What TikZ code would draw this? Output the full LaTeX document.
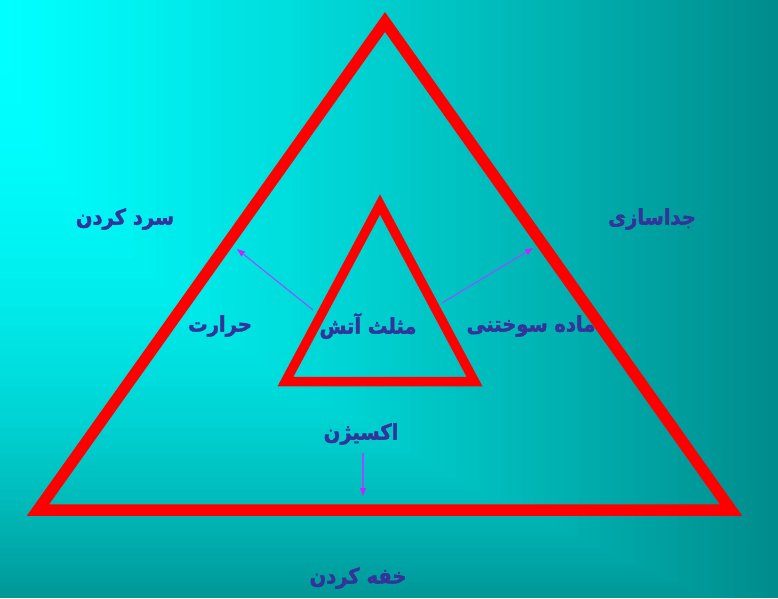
\documentclass[tikz,border=0pt]{standalone}
\usepackage{fontspec}
\usepackage{graphicx}
\TeXXeTstate=1
\newfontfamily\fa[Script=Arabic, FakeBold=2]{DejaVu Sans Bold}
\usetikzlibrary{arrows.meta}
\definecolor{bgA}{RGB}{0,255,255}
\definecolor{bgB}{RGB}{0,139,139}
\definecolor{fire}{RGB}{255,0,0}
\definecolor{txt}{RGB}{51,51,153}
\definecolor{arr}{RGB}{150,80,255}
\definecolor{arrhead}{RGB}{190,40,255}
\tikzset{
  lbl/.style={font=\fa\fontsize{19.5}{22}\selectfont, text=txt, inner sep=0pt},
  tri/.style={draw=fire, line join=miter},
  arrowline/.style={draw=arr, line width=1.1pt, -{Triangle[length=8pt,width=6pt,color=arrhead]}}
}
\newcommand\fatext[1]{\scalebox{1}[1.1]{\beginR #1\endR}}
\begin{document}
\begin{tikzpicture}[x=1pt,y=-1pt]
\useasboundingbox (0,0) rectangle (778,598);
% background: gradient from the top left corner
\foreach \i in {70,69,...,1}{
  \pgfmathsetmacro\tt{\i/70}
  \pgfmathsetmacro\tm{(\i-0.5)/70}
  \pgfmathsetmacro\pp{100*(1-pow(\tm,1.2))}
  \pgfmathsetmacro\hh{598*min(1,sqrt(\tt/0.92))}
  \fill[bgA!\pp!bgB] (0,0) rectangle (778*\tt,\hh);
}
% labels
\node[lbl] (sard) at (125,219) {\fatext{سرد کردن}};
\node[lbl] (joda) at (652,219) {\fatext{جداسازی}};
\node[lbl] (harar) at (220,326) {\fatext{حرارت}};
\node[lbl] (mosal) at (368,326) {\fatext{مثلث آتش}};
\node[lbl] (madde) at (531,326) {\fatext{ماده سوختنی}};
\node[lbl] (oxy) at (361,434) {\fatext{اکسیژن}};
\node[lbl] (khafe) at (358,578) {\fatext{خفه کردن}};
% triangles
\draw[tri, line width=11.5] (385,22) -- (38,510) -- (731,510) -- cycle;
\draw[tri, line width=9.5] (380,204.5) -- (285.5,381.5) -- (474.5,381.5) -- cycle;
% arrows
\coordinate (h0) at (313,310); \coordinate (h1) at (237,249);
\coordinate (m0) at (442,303); \coordinate (m1) at (533,248);
\coordinate (o0) at (363,453); \coordinate (o1) at (363,496);
\draw[arrowline] (h0) -- (h1);
\draw[arrowline] (m0) -- (m1);
\draw[arrowline] (o0) -- (o1);
\end{tikzpicture}
\end{document}
